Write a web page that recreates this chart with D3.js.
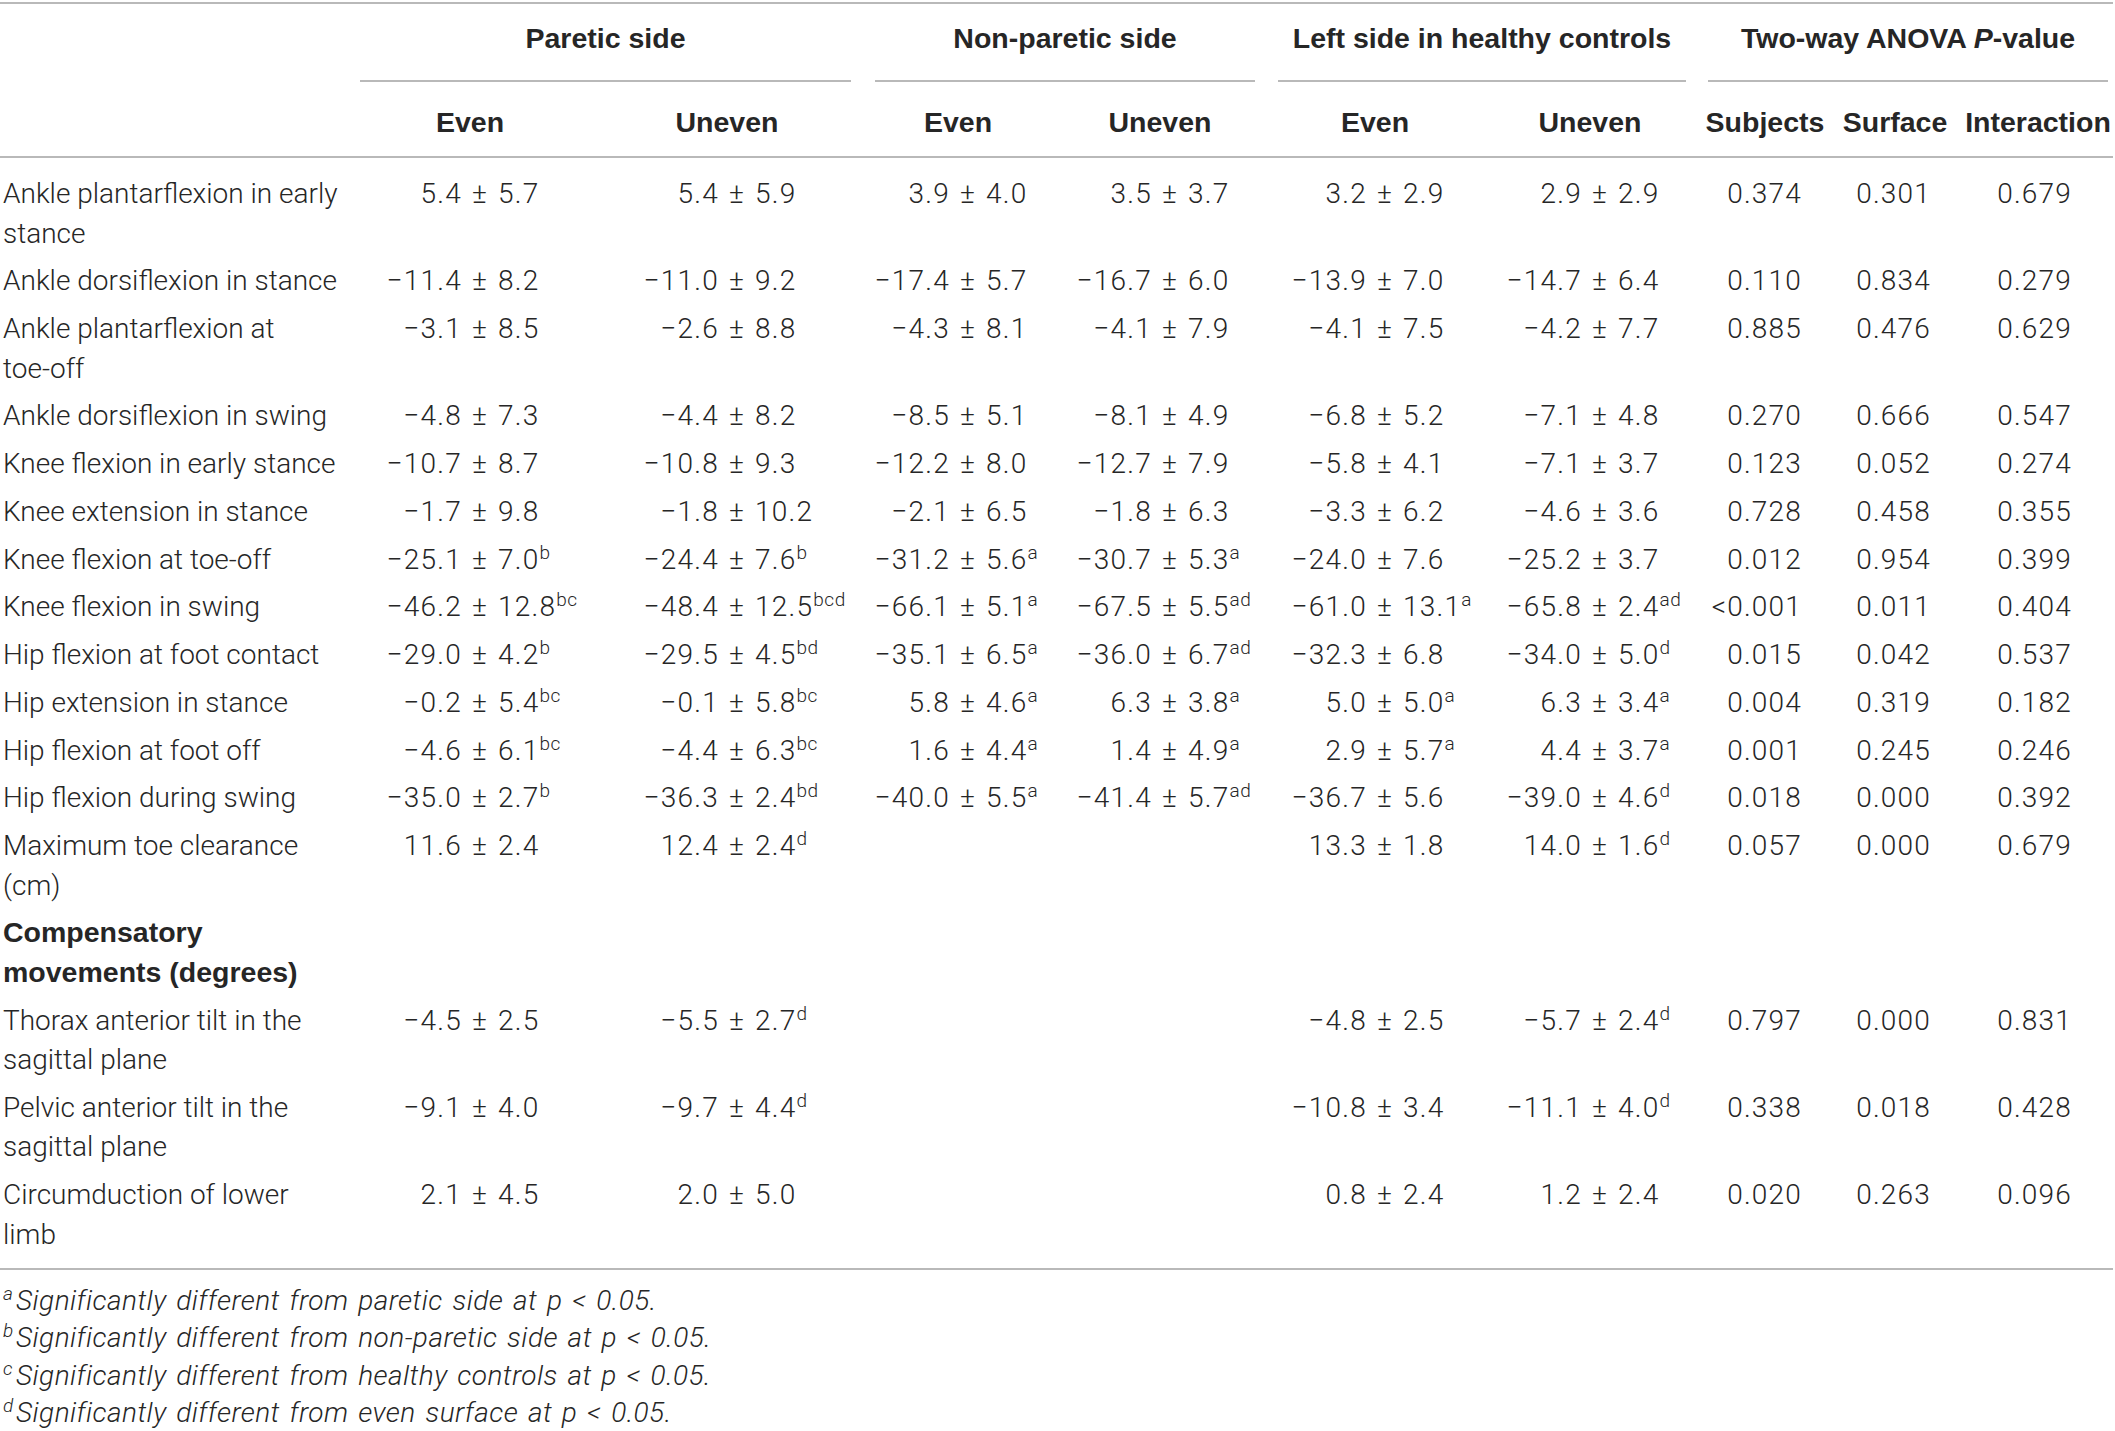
<!DOCTYPE html>
<html><head><meta charset="utf-8">
<script src="https://cdn.jsdelivr.net/npm/d3@7"></script>
<style>
html,body{margin:0;padding:0;background:#fff;}
svg{display:block;}
</style></head><body>
<svg id="chart" width="2115" height="1431"></svg>
<script>
// ---------------- DATA ----------------
const groupHeaders = ["Paretic side", "Non-paretic side", "Left side in healthy controls"];
const anovaHeader = ["Two-way ANOVA ", "P", "-value"];
const subHeaders = ["Even", "Uneven", "Even", "Uneven", "Even", "Uneven"];
const pHeaders = ["Subjects", "Surface", "Interaction"];

const rowLabels = [
  ["Ankle plantarflexion in early", "stance"],
  ["Ankle dorsiflexion in stance"],
  ["Ankle plantarflexion at", "toe-off"],
  ["Ankle dorsiflexion in swing"],
  ["Knee flexion in early stance"],
  ["Knee extension in stance"],
  ["Knee flexion at toe-off"],
  ["Knee flexion in swing"],
  ["Hip flexion at foot contact"],
  ["Hip extension in stance"],
  ["Hip flexion at foot off"],
  ["Hip flexion during swing"],
  ["Maximum toe clearance", "(cm)"],
  ["Compensatory", "movements (degrees)"],
  ["Thorax anterior tilt in the", "sagittal plane"],
  ["Pelvic anterior tilt in the", "sagittal plane"],
  ["Circumduction of lower", "limb"]
];
const boldRows = [13];

const pareticEvenMean = [5.4, -11.4, -3.1, -4.8, -10.7, -1.7, -25.1, -46.2, -29.0, -0.2, -4.6, -35.0, 11.6, null, -4.5, -9.1, 2.1];
const pareticEvenSD   = [5.7, 8.2, 8.5, 7.3, 8.7, 9.8, 7.0, 12.8, 4.2, 5.4, 6.1, 2.7, 2.4, null, 2.5, 4.0, 4.5];
const pareticEvenSig  = ["", "", "", "", "", "", "b", "bc", "b", "bc", "bc", "b", "", "", "", "", ""];

const pareticUnevenMean = [5.4, -11.0, -2.6, -4.4, -10.8, -1.8, -24.4, -48.4, -29.5, -0.1, -4.4, -36.3, 12.4, null, -5.5, -9.7, 2.0];
const pareticUnevenSD   = [5.9, 9.2, 8.8, 8.2, 9.3, 10.2, 7.6, 12.5, 4.5, 5.8, 6.3, 2.4, 2.4, null, 2.7, 4.4, 5.0];
const pareticUnevenSig  = ["", "", "", "", "", "", "b", "bcd", "bd", "bc", "bc", "bd", "d", "", "d", "d", ""];

const nonPareticEvenMean = [3.9, -17.4, -4.3, -8.5, -12.2, -2.1, -31.2, -66.1, -35.1, 5.8, 1.6, -40.0, null, null, null, null, null];
const nonPareticEvenSD   = [4.0, 5.7, 8.1, 5.1, 8.0, 6.5, 5.6, 5.1, 6.5, 4.6, 4.4, 5.5, null, null, null, null, null];
const nonPareticEvenSig  = ["", "", "", "", "", "", "a", "a", "a", "a", "a", "a", "", "", "", "", ""];

const nonPareticUnevenMean = [3.5, -16.7, -4.1, -8.1, -12.7, -1.8, -30.7, -67.5, -36.0, 6.3, 1.4, -41.4, null, null, null, null, null];
const nonPareticUnevenSD   = [3.7, 6.0, 7.9, 4.9, 7.9, 6.3, 5.3, 5.5, 6.7, 3.8, 4.9, 5.7, null, null, null, null, null];
const nonPareticUnevenSig  = ["", "", "", "", "", "", "a", "ad", "ad", "a", "a", "ad", "", "", "", "", ""];

const healthyEvenMean = [3.2, -13.9, -4.1, -6.8, -5.8, -3.3, -24.0, -61.0, -32.3, 5.0, 2.9, -36.7, 13.3, null, -4.8, -10.8, 0.8];
const healthyEvenSD   = [2.9, 7.0, 7.5, 5.2, 4.1, 6.2, 7.6, 13.1, 6.8, 5.0, 5.7, 5.6, 1.8, null, 2.5, 3.4, 2.4];
const healthyEvenSig  = ["", "", "", "", "", "", "", "a", "", "a", "a", "", "", "", "", "", ""];

const healthyUnevenMean = [2.9, -14.7, -4.2, -7.1, -7.1, -4.6, -25.2, -65.8, -34.0, 6.3, 4.4, -39.0, 14.0, null, -5.7, -11.1, 1.2];
const healthyUnevenSD   = [2.9, 6.4, 7.7, 4.8, 3.7, 3.6, 3.7, 2.4, 5.0, 3.4, 3.7, 4.6, 1.6, null, 2.4, 4.0, 2.4];
const healthyUnevenSig  = ["", "", "", "", "", "", "", "ad", "d", "a", "a", "d", "d", "", "d", "d", ""];

const pSubjects    = ["0.374", "0.110", "0.885", "0.270", "0.123", "0.728", "0.012", "<0.001", "0.015", "0.004", "0.001", "0.018", "0.057", null, "0.797", "0.338", "0.020"];
const pSurface     = ["0.301", "0.834", "0.476", "0.666", "0.052", "0.458", "0.954", "0.011", "0.042", "0.319", "0.245", "0.000", "0.000", null, "0.000", "0.018", "0.263"];
const pInteraction = ["0.679", "0.279", "0.629", "0.547", "0.274", "0.355", "0.399", "0.404", "0.537", "0.182", "0.246", "0.392", "0.679", null, "0.831", "0.428", "0.096"];

const footnoteMarks = ["a", "b", "c", "d"];
const footnoteTexts = [
  ["Significantly different from paretic side at ", "p", " < 0.05."],
  ["Significantly different from non-paretic side at ", "p", " < 0.05."],
  ["Significantly different from healthy controls at ", "p", " < 0.05."],
  ["Significantly different from even surface at ", "p", " < 0.05."]
];

// ---------------- LAYOUT ----------------
const W = 2115, H = 1431;
const BODY = "Roboto, 'Liberation Sans', Arial, sans-serif";
const BOLD = "'Liberation Sans', Arial, Helvetica, sans-serif";
const TEXT = "#262626";
const RULE = "#b9b9b9";
const FS = 28, FS_B = 28.5, FS_SUP = 19;
const LINE_H = 39.5, ROW_GAP = 8.25;

const svg = d3.select("#chart");
svg.append("rect").attr("width", W).attr("height", H).attr("fill", "#fff");

const valueCols = [
  {key: "pe", mean: pareticEvenMean, sd: pareticEvenSD, sig: pareticEvenSig},
  {key: "pu", mean: pareticUnevenMean, sd: pareticUnevenSD, sig: pareticUnevenSig},
  {key: "ne", mean: nonPareticEvenMean, sd: nonPareticEvenSD, sig: nonPareticEvenSig},
  {key: "nu", mean: nonPareticUnevenMean, sd: nonPareticUnevenSD, sig: nonPareticUnevenSig},
  {key: "he", mean: healthyEvenMean, sd: healthyEvenSD, sig: healthyEvenSig},
  {key: "hu", mean: healthyUnevenMean, sd: healthyUnevenSD, sig: healthyUnevenSig}
];
const pCols = [
  {key: "s", vals: pSubjects},
  {key: "f", vals: pSurface},
  {key: "i", vals: pInteraction}
];

// x of the "±" sign for each value column
const xVal = d3.scaleOrdinal().domain(valueCols.map(d => d.key)).range([480, 737, 968, 1170, 1385, 1600]);
// right edge of p-value columns
const xP = d3.scaleOrdinal().domain(pCols.map(d => d.key)).range([1802, 1931, 2072]);
// header centres of p-value columns
const xPHead = d3.scaleOrdinal().domain(pCols.map(d => d.key)).range([1765, 1895, 2038]);
// group spans
const groupSpans = [[360, 851], [875, 1255], [1278, 1686], [1708, 2108]];

// row positions: cumulative units through a linear scale
const rowStart = [];
let acc = 0;
rowLabels.forEach(l => { rowStart.push(acc); acc += l.length * LINE_H + ROW_GAP; });
const yRow = d3.scaleLinear().domain([0, acc]).range([203, 203 + acc]);

const fmt = d3.format(".1f");

// ---------------- RULES ----------------
const rules = svg.append("g").attr("stroke", RULE).attr("stroke-width", 2);
rules.append("line").attr("x1", 0).attr("x2", 2113).attr("y1", 3).attr("y2", 3);
rules.append("line").attr("x1", 0).attr("x2", 2113).attr("y1", 157).attr("y2", 157);
rules.append("line").attr("x1", 0).attr("x2", 2113).attr("y1", 1269).attr("y2", 1269);
rules.selectAll("line.g").data(groupSpans).join("line").attr("class", "g")
  .attr("x1", d => d[0]).attr("x2", d => d[1]).attr("y1", 81).attr("y2", 81);

// ---------------- HEADERS ----------------
const head = svg.append("g").attr("font-family", BOLD).attr("font-weight", 700)
  .attr("font-size", FS_B).attr("fill", TEXT).attr("text-anchor", "middle");
head.selectAll("text.grp").data(groupHeaders).join("text").attr("class", "grp")
  .attr("x", (d, i) => (groupSpans[i][0] + groupSpans[i][1]) / 2).attr("y", 48).text(d => d);
const an = head.append("text").attr("x", (groupSpans[3][0] + groupSpans[3][1]) / 2).attr("y", 48);
an.selectAll("tspan").data(anovaHeader).join("tspan")
  .attr("font-style", (d, i) => i === 1 ? "italic" : "normal").text(d => d);
head.selectAll("text.sub").data(subHeaders).join("text").attr("class", "sub")
  .attr("x", (d, i) => xVal(valueCols[i].key) - 10).attr("y", 132).text(d => d);
head.selectAll("text.ph").data(pHeaders).join("text").attr("class", "ph")
  .attr("x", (d, i) => xPHead(pCols[i].key)).attr("y", 132).text(d => d);

// ---------------- ROW LABELS ----------------
const labels = svg.append("g").attr("fill", TEXT);
rowLabels.forEach((lines, r) => {
  const bold = boldRows.includes(r);
  const t = labels.append("text")
    .attr("font-family", bold ? BOLD : BODY)
    .attr("font-weight", bold ? 700 : 300)
    .attr("font-size", bold ? FS_B : FS)
    .attr("y", yRow(rowStart[r]));
  t.selectAll("tspan").data(lines).join("tspan")
    .attr("x", 3).attr("dy", (d, i) => i === 0 ? 0 : LINE_H).text(d => d);
});

// ---------------- VALUE CELLS ----------------
const cells = svg.append("g").attr("font-family", BODY).attr("font-weight", 300)
  .attr("font-size", FS).attr("fill", TEXT)
  .style("letter-spacing", "1.2px").style("word-spacing", "2px");
valueCols.forEach(col => {
  col.mean.forEach((m, r) => {
    if (m === null || m === undefined) return;
    const ms = fmt(m), ss = fmt(col.sd[r]);
    const t = cells.append("text").attr("y", yRow(rowStart[r]));
    t.append("tspan").text(ms + " \u00B1 " + ss);
    if (col.sig[r]) t.append("tspan").attr("font-size", FS_SUP).attr("dy", -10)
      .style("letter-spacing", "0.6px").text(col.sig[r]);
    const node = t.node();
    const idx = ms.length + 1;
    const pre = node.getSubStringLength(0, idx);
    const pm = node.getSubStringLength(idx, 1);
    t.attr("x", xVal(col.key) - pre - pm / 2);
  });
});
pCols.forEach(col => {
  cells.selectAll(null).data(col.vals.map((v, r) => ({v, r})).filter(d => d.v !== null))
    .join("text").attr("text-anchor", "end")
    .attr("x", xP(col.key)).attr("y", d => yRow(rowStart[d.r])).text(d => d.v);
});

// ---------------- FOOTNOTES ----------------
const foot = svg.append("g").attr("font-family", BODY).attr("font-weight", 300)
  .attr("font-style", "italic").attr("fill", TEXT);
const yFoot = d3.scaleLinear().domain([0, 3]).range([1310, 1422]);
footnoteMarks.forEach((mk, i) => {
  foot.append("text").attr("x", 3).attr("y", yFoot(i) - 10).attr("font-size", FS_SUP).text(mk);
  const t = foot.append("text").attr("x", 16).attr("y", yFoot(i)).attr("font-size", FS)
    .style("letter-spacing", "0.45px").style("word-spacing", "2.5px");
  t.selectAll("tspan").data(footnoteTexts[i]).join("tspan").text(d => d);
});
</script>
</body></html>
